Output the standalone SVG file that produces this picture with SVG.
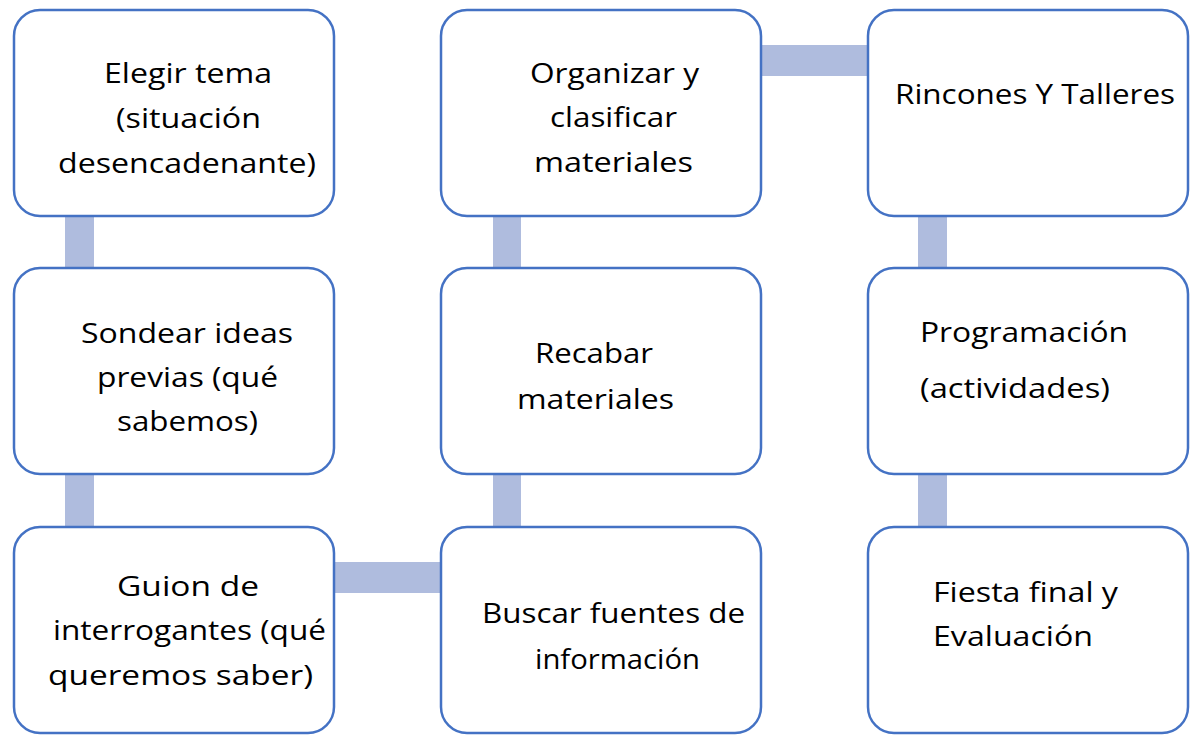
<svg xmlns="http://www.w3.org/2000/svg" width="1191" height="739" viewBox="0 0 1191 739">
  <style>
    .box { fill: #ffffff; stroke: #4472C4; stroke-width: 2.5; }
    .link { fill: #AFBCDE; stroke: none; }
    .lbl { font-family: "Open Sans", "Noto Sans", "Liberation Sans", sans-serif; font-size: 28px; fill: #000000; }
  </style>
  <rect x="0" y="0" width="1191" height="739" fill="#ffffff"/>
  <g id="connectors">
    <rect class="link" x="65" y="214" width="29" height="56"/>
    <rect class="link" x="65" y="472" width="29" height="57"/>
    <rect class="link" x="332" y="562" width="111" height="31"/>
    <rect class="link" x="493" y="472" width="28" height="57"/>
    <rect class="link" x="493" y="214" width="28" height="56"/>
    <rect class="link" x="759" y="45" width="111" height="31"/>
    <rect class="link" x="918" y="214" width="29" height="56"/>
    <rect class="link" x="918" y="472" width="29" height="57"/>
  </g>
  <g id="n1">
    <rect class="box" x="14" y="10" width="320" height="206" rx="26"/>
    <text class="lbl" x="104" y="83" textLength="168" lengthAdjust="spacingAndGlyphs">Elegir tema</text>
    <text class="lbl" x="116" y="128" textLength="145" lengthAdjust="spacingAndGlyphs">(situación</text>
    <text class="lbl" x="58" y="173" textLength="258" lengthAdjust="spacingAndGlyphs">desencadenante)</text>
  </g>
  <g id="n2">
    <rect class="box" x="14" y="268" width="320" height="206" rx="26"/>
    <text class="lbl" x="81" y="343" textLength="212" lengthAdjust="spacingAndGlyphs">Sondear ideas</text>
    <text class="lbl" x="97" y="387" textLength="181" lengthAdjust="spacingAndGlyphs">previas (qué</text>
    <text class="lbl" x="117" y="431" textLength="141" lengthAdjust="spacingAndGlyphs">sabemos)</text>
  </g>
  <g id="n3">
    <rect class="box" x="14" y="527" width="320" height="206" rx="26"/>
    <text class="lbl" x="117" y="596" textLength="142" lengthAdjust="spacingAndGlyphs">Guion de</text>
    <text class="lbl" x="53" y="640" textLength="273" lengthAdjust="spacingAndGlyphs">interrogantes (qué</text>
    <text class="lbl" x="48" y="685" textLength="265" lengthAdjust="spacingAndGlyphs">queremos saber)</text>
  </g>
  <g id="n4">
    <rect class="box" x="441" y="10" width="320" height="206" rx="26"/>
    <text class="lbl" x="530" y="83" textLength="169" lengthAdjust="spacingAndGlyphs">Organizar y</text>
    <text class="lbl" x="550" y="127" textLength="127" lengthAdjust="spacingAndGlyphs">clasificar</text>
    <text class="lbl" x="534" y="172" textLength="159" lengthAdjust="spacingAndGlyphs">materiales</text>
  </g>
  <g id="n5">
    <rect class="box" x="441" y="268" width="320" height="206" rx="26"/>
    <text class="lbl" x="535" y="363" textLength="118" lengthAdjust="spacingAndGlyphs">Recabar</text>
    <text class="lbl" x="517" y="409" textLength="157" lengthAdjust="spacingAndGlyphs">materiales</text>
  </g>
  <g id="n6">
    <rect class="box" x="441" y="527" width="320" height="206" rx="26"/>
    <text class="lbl" x="482" y="623" textLength="263" lengthAdjust="spacingAndGlyphs">Buscar fuentes de</text>
    <text class="lbl" x="535" y="669" textLength="165" lengthAdjust="spacingAndGlyphs">información</text>
  </g>
  <g id="n7">
    <rect class="box" x="868" y="10" width="320" height="206" rx="26"/>
    <text class="lbl" x="895" y="104" textLength="280" lengthAdjust="spacingAndGlyphs">Rincones Y Talleres</text>
  </g>
  <g id="n8">
    <rect class="box" x="868" y="268" width="320" height="206" rx="26"/>
    <text class="lbl" x="920" y="342" textLength="208" lengthAdjust="spacingAndGlyphs">Programación</text>
    <text class="lbl" x="920" y="398" textLength="190" lengthAdjust="spacingAndGlyphs">(actividades)</text>
  </g>
  <g id="n9">
    <rect class="box" x="868" y="527" width="320" height="206" rx="26"/>
    <text class="lbl" x="933" y="602" textLength="185" lengthAdjust="spacingAndGlyphs">Fiesta final y</text>
    <text class="lbl" x="933" y="646" textLength="160" lengthAdjust="spacingAndGlyphs">Evaluación</text>
  </g>
</svg>
